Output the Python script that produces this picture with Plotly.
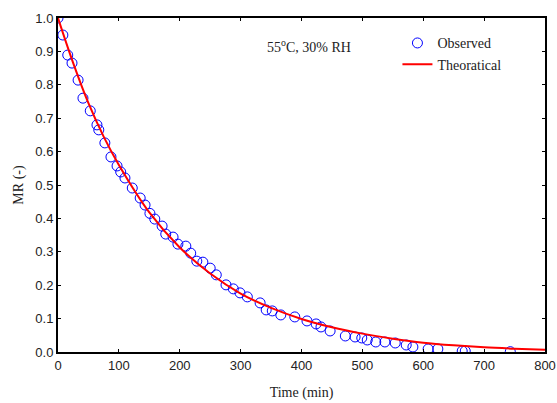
import plotly.graph_objects as go

# Observed data (time in min, moisture ratio)
obs_time = [0, 8, 16, 23, 33, 41, 53, 64, 67, 77, 87, 97, 103, 110, 122, 135, 143, 151,
            159, 171, 177, 189, 197, 210, 218, 228, 238, 250, 260, 276, 288, 299, 311,
            332, 342, 352, 366, 389, 409, 424, 432, 447, 472, 488, 499, 508, 522, 537,
            554, 572, 583, 608, 624, 664, 669, 743]
obs_mr = [1.000, 0.949, 0.889, 0.865, 0.814, 0.760, 0.722, 0.680, 0.665, 0.626, 0.584,
          0.557, 0.539, 0.521, 0.491, 0.461, 0.440, 0.415, 0.398, 0.377, 0.353, 0.344,
          0.323, 0.317, 0.296, 0.272, 0.269, 0.251, 0.231, 0.201, 0.189, 0.177, 0.165,
          0.147, 0.126, 0.123, 0.111, 0.105, 0.093, 0.084, 0.075, 0.063, 0.048, 0.045,
          0.042, 0.036, 0.030, 0.030, 0.027, 0.021, 0.015, 0.009, 0.009, 0.003, 0.003,
          0.001]

# Theoretical curve
theo_time = [0, 25, 50, 75, 100, 150, 200, 250, 300, 350, 400, 450, 500, 550, 600,
             650, 700, 750, 800]
theo_mr = [1.000, 0.865, 0.745, 0.645, 0.560, 0.418, 0.313, 0.235, 0.175, 0.132, 0.099,
           0.074, 0.055, 0.040, 0.028, 0.020, 0.014, 0.010, 0.007]

x_ticks = [0, 100, 200, 300, 400, 500, 600, 700, 800]
y_ticks = [0.0, 0.1, 0.2, 0.3, 0.4, 0.5, 0.6, 0.7, 0.8, 0.9, 1.0]

SERIF = "Liberation Serif, Times New Roman, serif"
SANS = "Liberation Sans, Arial, sans-serif"

fig = go.Figure()
fig.add_trace(go.Scatter(
    x=obs_time, y=obs_mr, mode="markers", name="Observed",
    marker=dict(symbol="circle-open", size=10, color="#0000ff",
                line=dict(width=1, color="#0000ff")),
    cliponaxis=True,
))
fig.add_trace(go.Scatter(
    x=theo_time, y=theo_mr, mode="lines", name="Theoratical",
    line=dict(color="#ff0000", width=2, shape="spline", smoothing=1.0),
))

axis_common = dict(
    showline=True, linecolor="black", linewidth=2, mirror="ticks",
    ticks="inside", ticklen=3, tickcolor="black", tickwidth=1,
    showgrid=False, zeroline=False, automargin=False,
    tickfont=dict(family=SANS, size=13, color="#222"),
)

fig.update_layout(
    width=557, height=403,
    margin=dict(l=58, r=12, t=18, b=51),
    paper_bgcolor="white", plot_bgcolor="white",
    showlegend=True,
    legend=dict(
        x=0.697, y=0.972, xanchor="left", yanchor="top",
        bgcolor="rgba(0,0,0,0)", borderwidth=0,
        font=dict(family=SERIF, size=14, color="#222"),
        itemwidth=30, tracegroupgap=0,
    ),
    xaxis=dict(range=[0, 800], tickvals=x_ticks,
               title=dict(text="Time (min)", standoff=16,
                          font=dict(family=SERIF, size=14, color="#222")),
               **axis_common),
    yaxis=dict(range=[0, 1.0], tickvals=y_ticks, tickformat=".1f",
               title=dict(text="MR (-)", standoff=8,
                          font=dict(family=SERIF, size=14, color="#222")),
               **axis_common),
    annotations=[dict(
        x=0.515, y=0.915, xref="paper", yref="paper", xanchor="center", yanchor="middle",
        text="55<sup>o</sup>C, 30% RH", showarrow=False,
        font=dict(family=SERIF, size=14, color="#222"),
    )],
)

fig.write_html("out.html")
